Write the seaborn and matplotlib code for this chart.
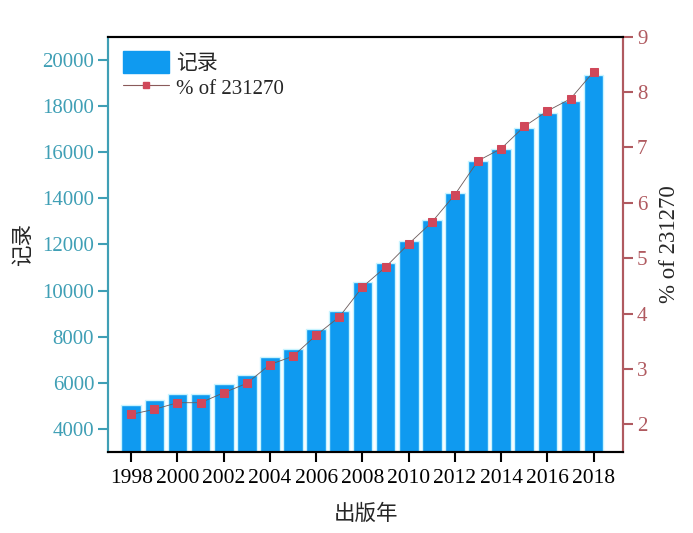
import matplotlib
matplotlib.use("Agg")
import matplotlib.pyplot as plt
import seaborn as sns
import pandas as pd
from matplotlib.patches import Patch
from matplotlib.lines import Line2D

# values
years = list(range(1998, 2019))
records = [5040, 5260, 5520, 5520, 5950, 6340, 7120, 7470, 8340, 9120, 10360,
           11190, 12160, 13070, 14230, 15630, 16150, 17060, 17710, 18230, 19360]
percent = [2.18, 2.27, 2.39, 2.39, 2.57, 2.74, 3.08, 3.23, 3.61, 3.94, 4.48,
           4.84, 5.26, 5.65, 6.15, 6.76, 6.98, 7.38, 7.66, 7.88, 8.37]
year_ticks = list(range(1998, 2019, 2))

df = pd.DataFrame({"year": years, "records": records, "percent": percent})

sns.set_style("white")
plt.rcParams["font.family"] = ["Liberation Serif", "Noto Sans CJK SC", "DejaVu Sans"]

bar_color = "#0f9af0"
left_color = "#3f9fb5"
right_color = "#b05a60"
marker_color = "#d0485a"

fig = plt.figure(figsize=(6.93, 5.33), dpi=100)
ax = fig.add_axes([0.156, 0.152, 0.743, 0.779])

sns.barplot(data=df, x="year", y="records", native_scale=True, width=0.85,
            color=bar_color, saturation=1, edgecolor="#c8f4ff", linewidth=1.0, ax=ax)
ax.set_ylim(3000, 21000)
ax.set_xlim(1997.0, 2019.27)
ax.set_xticks(year_ticks)
ax.set_xticklabels([str(y) for y in year_ticks])
ax.set_yticks(range(4000, 20001, 2000))
ax.set_xlabel("出版年", fontsize=15.5, labelpad=12)
ax.set_ylabel("记录", fontsize=15.5, labelpad=6)

ax2 = ax.twinx()
sns.lineplot(data=df, x="year", y="percent", ax=ax2, color="#6a5a5a", linewidth=0.6,
             marker="s", markersize=5.5, markerfacecolor=marker_color,
             markeredgecolor=marker_color, legend=False)
ax2.set_ylim(1.5, 9)
ax2.set_yticks(range(2, 10))
ax2.set_ylabel("% of 231270", fontsize=16.5, labelpad=8)

for a in (ax, ax2):
    for s in a.spines.values():
        s.set_linewidth(1.5)
        s.set_color("black")
ax2.spines["left"].set_color(left_color)
ax2.spines["right"].set_color(right_color)
ax.spines["left"].set_color(left_color)
ax.spines["right"].set_color(right_color)

ax.tick_params(axis="x", direction="out", length=7, width=1.5, colors="black",
               labelsize=15.5, bottom=True, pad=5)
ax.tick_params(axis="y", direction="out", length=7, width=1.5, color=left_color,
               labelcolor=left_color, labelsize=15, left=True, pad=3)
ax2.tick_params(axis="y", direction="out", length=7, width=1.5, color=right_color,
                labelcolor=right_color, labelsize=15, right=True, pad=3)

handles = [Patch(facecolor=bar_color, edgecolor=bar_color),
           Line2D([0], [0], color="#8a5a5a", linewidth=0.8, marker="s", markersize=5,
                  markerfacecolor=marker_color, markeredgecolor=marker_color)]
ax2.legend(handles, ["记录", "% of 231270"], loc="upper left", frameon=False,
           fontsize=15, handlelength=2.2, handleheight=1.2, borderaxespad=0.3,
           handletextpad=0.35, labelspacing=0.1)

fig.savefig("out.png", dpi=100)
